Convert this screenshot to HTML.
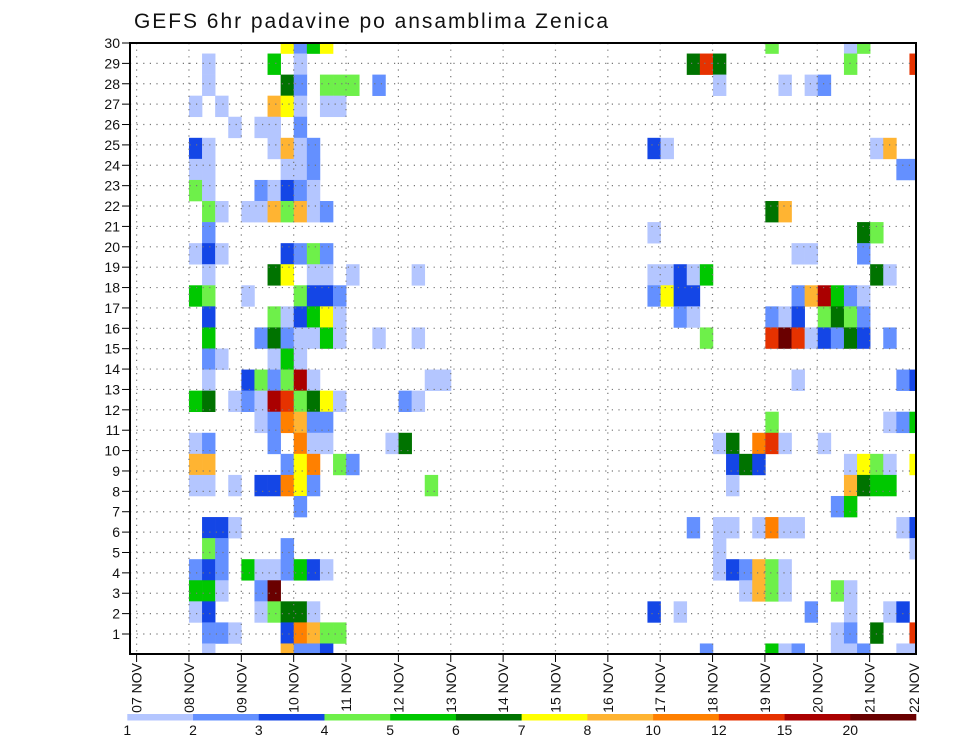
<!DOCTYPE html>
<html><head><meta charset="utf-8"><style>
body{margin:0;background:#fff;}
svg{display:block;font-family:"Liberation Sans",sans-serif;}
</style></head><body>
<svg id="chart" width="960" height="742" viewBox="0 0 960 742">
<text x="134" y="28" font-size="21" textLength="474" fill="#111">GEFS 6hr padavine po ansamblima Zenica</text>
<defs><clipPath id="pc"><rect x="130" y="43" width="786" height="611"/></clipPath></defs>
<g id="cells" clip-path="url(#pc)"></g>
<g id="grid"></g>
<rect x="130" y="43" width="786" height="611" fill="none" stroke="#000" stroke-width="2"/>
<g id="axes"></g>
<g id="legend"></g>
</svg>
<script>
// data: each member row lists "column+category" tokens (column = 6h step, category = precip class)
const rows = [
"12g 13b 14e 15g 49d 55a 56d",
"6a 11e 13a 43f 44j 45f 55d 60j",
"6a 12f 13b 15d 16d 17d 19b 45a 50a 52a 53b",
"5a 7a 11h 12g 13a 15a 16a",
"8a 10a 11a 13b",
"5c 6a 11a 12h 13a 14b 40c 41a 57a 58h",
"5a 6a 12a 13a 14b 59b 60b",
"5d 6a 10b 11a 12c 13b 14a",
"6d 7a 9a 10a 11h 12d 13h 14a 15b 49f 50h",
"6b 40a 56f 57d",
"5a 6c 7a 12c 13b 14d 15b 51a 52a 56b",
"6a 11f 12g 14a 15a 17a 22a 40a 41a 42c 43a 44e 57f 58a",
"5e 6d 9a 13d 14c 15c 16b 40b 41g 42c 43c 51b 52h 53k 54e 55b 56a",
"6c 11d 12a 13c 14e 15g 16a 42b 43a 49b 50a 51c 53d 54f 55d 56b",
"6e 10b 11f 12b 13a 14a 15e 16a 19a 22a 44d 49j 50l 51j 52a 53c 54b 55f 56c 58b",
"6b 7a 11a 12e 13a",
"6a 9c 10d 11b 12d 13k 14a 23a 24a 51a 59b 60c",
"5e 6f 8a 9b 10a 11k 12j 13d 14f 15g 16a 21b 22a",
"10a 11b 12i 13h 14b 15b 49d 58a 59b 60e",
"5a 6b 11b 13i 14a 15a 20a 21f 45a 46f 48i 49j 50a 53a",
"5h 6h 12b 13g 14i 16d 17b 46c 47f 48c 55a 56g 57d 58a 60g",
"5a 6a 8a 10c 11c 12i 13g 14b 23d 46a 55h 56f 57e 58e",
"13b 54b 55e",
"6c 7c 8a 43b 45a 46a 48a 49i 50a 51a 59a 60c",
"6d 7b 12b 45a 60a",
"5b 6c 7b 9e 10a 11a 12b 13e 14c 15a 45a 46c 47b 48h 49d 50a",
"5e 6e 7a 10b 11l 47a 48h 49d 50a 54d 55a",
"5a 6c 10a 11d 12f 13f 14a 40c 42a 52b 55a 58a 59c",
"6b 7b 8a 12c 13i 14h 15d 16d 54a 55b 57f 60j",
"6a 12h 13b 14b 15c 44b 49e 50a 51b 54a 55a 56b 59a 60a"
];
const catValues = {a:1.5,b:2.5,c:3.5,d:4.5,e:5.5,f:6.5,g:7.5,h:9,i:11,j:13.5,k:17.5,l:25};
const levels = [1,2,3,4,5,6,7,8,10,12,15,20];
const colors = ["#b4c6ff","#6490ff","#1446e6","#6ef04a","#00c800","#007300","#ffff00","#ffb432","#ff8000","#e63200","#aa0000","#6a0000"];
const yLabels = [1,2,3,4,5,6,7,8,9,10,11,12,13,14,15,16,17,18,19,20,21,22,23,24,25,26,27,28,29,30];
const dayLabels = ["07","08","09","10","11","12","13","14","15","16","17","18","19","20","21","22"];

const NS="http://www.w3.org/2000/svg";
const X0=130,X1=916,Y0=43,Y1=654,NC=60,NR=29;
const cw=(X1-X0)/NC, rh=(Y1-Y0)/NR;
function xCol(c){return X0+(c-0.5)*cw;}
function yRow(i){return Y0+(i-0.5)*rh;}
function xDay(d){return 136.6+d*52.36;}
function yLab(k){return Y0+(30-k)*(Y1-20-Y0)/29;}
function colorFor(v){let idx=0;for(let j=0;j<levels.length;j++){if(v>=levels[j])idx=j;}return colors[idx];}
function mk(tag,attrs,parent){const e=document.createElementNS(NS,tag);for(const k in attrs)e.setAttribute(k,attrs[k]);parent.appendChild(e);return e;}

const cellsG=document.getElementById('cells');
rows.forEach((r,i)=>{
  r.split(' ').forEach(tok=>{
    const c=parseInt(tok,10), v=catValues[tok.slice(-1)];
    const el=mk('rect',{x:xCol(c),y:yRow(i),width:cw+0.3,height:rh+0.3,fill:colorFor(v)},cellsG);
    
    
  });
});

const grid=document.getElementById('grid');
yLabels.forEach(k=>{
  if(k<30){const y=yLab(k);
  const l=mk('line',{x1:X0,x2:X1,y1:y,y2:y,stroke:"#777","stroke-width":1.2,"stroke-dasharray":"1.2,5.4"},grid);
  
  }
});
for(let d=0;d<15;d++){const x=xDay(d);
  const l=mk('line',{x1:x,x2:x,y1:Y0,y2:Y1,stroke:"#777","stroke-width":1.2,"stroke-dasharray":"1.2,5.4"},grid);
  
  
}

const axes=document.getElementById('axes');
yLabels.forEach(k=>{const y=yLab(k);
  mk('line',{x1:122,x2:X0,y1:y,y2:y,stroke:"#000","stroke-width":1},axes);
  const t=mk('text',{x:120,y:y+5,"font-size":14,"text-anchor":"end",fill:"#111"},axes);
  t.textContent=k;
  
  
});
dayLabels.forEach((d,j)=>{
  let x = j<15 ? xDay(j) : 914;
  if(j<15) mk('line',{x1:x,x2:x,y1:Y1,y2:662,stroke:"#000","stroke-width":1},axes);
  const t=mk('text',{x:0,y:0,"font-size":14,"text-anchor":"end",fill:"#111",transform:`translate(${x+5},663) rotate(-90)`},axes);
  t.textContent=d+" NOV";
  
  
});

const lg=document.getElementById('legend');
const lw=(916-127.3)/colors.length;
colors.forEach((c,j)=>{
  const r=mk('rect',{x:127.3+j*lw,y:714,width:lw+0.3,height:6.5,fill:c},lg);
  
  
});
levels.forEach((v,j)=>{
  const t=mk('text',{x:127.3+j*lw,y:735,"font-size":14,"text-anchor":"middle",fill:"#111"},lg);
  t.textContent=v;
  
  
});
</script>
</body></html>
